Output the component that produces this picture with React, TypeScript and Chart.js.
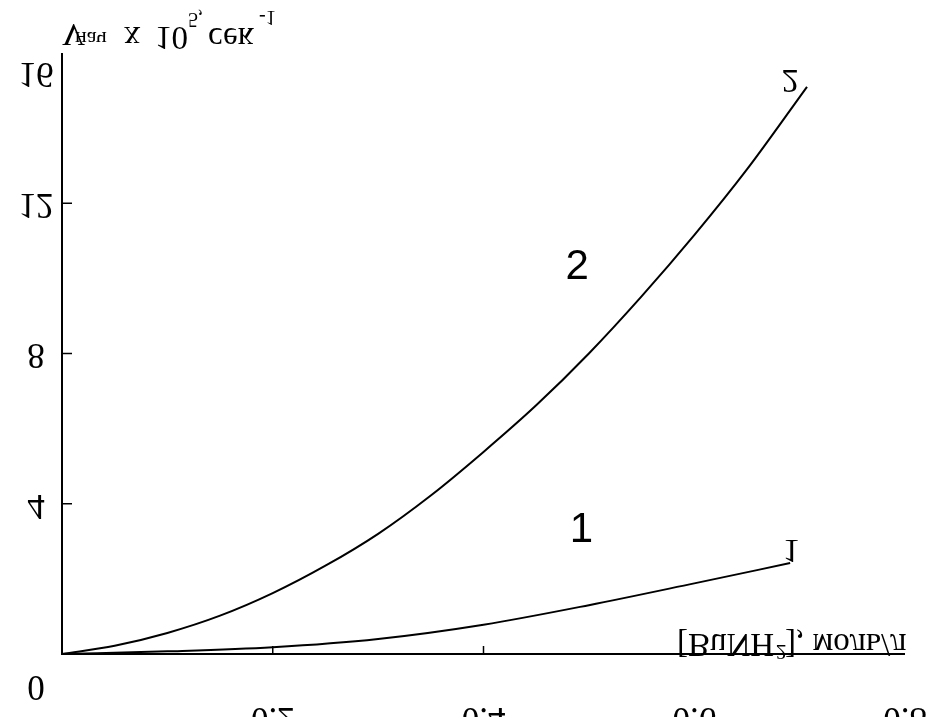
import React, { useEffect, useRef } from "react";
import { Chart, registerables } from "chart.js";

Chart.register(...registerables);

// ---- data ----
const xCurve2 = [0, 0.05, 0.1, 0.15, 0.2, 0.25, 0.3, 0.35, 0.4, 0.45, 0.5, 0.55, 0.6, 0.65, 0.707];
const yCurve2 = [0, 0.22, 0.56, 1.02, 1.62, 2.35, 3.2, 4.22, 5.38, 6.62, 8.0, 9.52, 11.15, 12.9, 15.1];
const xCurve1 = [0, 0.1, 0.2, 0.3, 0.4, 0.5, 0.6, 0.691];
const yCurve1 = [0, 0.07, 0.18, 0.4, 0.78, 1.3, 1.88, 2.42];

const xTickValues = [0.2, 0.4, 0.6, 0.8];
const xTickLabels = ["0.2", "0.4", "0.6", "0.8"];
const xTickMarks = [0.2, 0.4];
const yTickValues = [0, 4, 8, 12, 16];
const yTickLabels = ["0", "4", "8", "12", "16"];
const yTickMarks = [4, 8, 12];

const yTitleParts = ["V", "нач", "х", "10", "5,", "сек", "-1"];
const xTitleParts = ["[BuNH", "2", "], моль/л"];

const curveNames = ["1", "2"];
// label anchors in data units: [x, y]
const curveLabelAt = [
  [0.493, 3.3],
  [0.489, 10.28],
];
const curveEndLabelAt = [
  [0.692, 2.8],
  [0.691, 15.3],
];

const SERIF = "'Liberation Serif', 'Times New Roman', serif";
const SANS = "'Liberation Sans', Arial, sans-serif";

function flipText(ctx: CanvasRenderingContext2D, text: string, x: number, y: number, font: string, align: CanvasTextAlign) {
  ctx.save();
  ctx.font = font;
  ctx.textAlign = align;
  ctx.textBaseline = "middle";
  ctx.fillStyle = "#000";
  ctx.translate(x, y);
  ctx.scale(1, -1);
  ctx.fillText(text, 0, 0);
  ctx.restore();
}

const decorPlugin = {
  id: "decor",
  afterDatasetsDraw(chart: any) {
    const ctx: CanvasRenderingContext2D = chart.ctx;
    const xs = chart.scales.x;
    const ys = chart.scales.y;
    const x0 = xs.getPixelForValue(0);
    const y0 = ys.getPixelForValue(0);
    const yTop = ys.getPixelForValue(16);
    const xEnd = xs.getPixelForValue(0.8);

    ctx.save();
    ctx.strokeStyle = "#000";
    ctx.lineWidth = 2;
    ctx.beginPath();
    ctx.moveTo(x0, yTop);
    ctx.lineTo(x0, y0);
    ctx.lineTo(xEnd, y0);
    ctx.stroke();

    ctx.lineWidth = 1.5;
    yTickMarks.forEach((v) => {
      const p = ys.getPixelForValue(v);
      ctx.beginPath();
      ctx.moveTo(x0, p);
      ctx.lineTo(x0 + 10, p);
      ctx.stroke();
    });
    xTickMarks.forEach((v) => {
      const p = xs.getPixelForValue(v);
      ctx.beginPath();
      ctx.moveTo(p, y0);
      ctx.lineTo(p, y0 - 8);
      ctx.stroke();
    });
    ctx.restore();

    // tick labels (flipped)
    const tickFont = `35px ${SERIF}`;
    yTickValues.forEach((v, i) => {
      let p = ys.getPixelForValue(v);
      if (v === 0) p += 31;
      if (v === 16) p += 19;
      flipText(ctx, yTickLabels[i], 36, p, tickFont, "center");
    });
    xTickValues.forEach((v, i) => {
      const p = xs.getPixelForValue(v);
      flipText(ctx, xTickLabels[i], p, y0 + 63, tickFont, "center");
    });

    // y title
    const yStyles = [
      { x: 0, y: 32, size: 32 },
      { x: 13, y: 38, size: 22 },
      { x: 62, y: 36, size: 33 },
      { x: 93, y: 36, size: 33 },
      { x: 126, y: 18, size: 20 },
      { x: 146, y: 37, size: 33 },
      { x: 197, y: 16, size: 20 },
    ];
    yTitleParts.forEach((t, i) => {
      const s = yStyles[i];
      flipText(ctx, t, x0 + s.x, s.y, `${s.size}px ${SERIF}`, "left");
    });

    // x title
    const xStyles = [
      { x: 677, dy: -11, size: 33 },
      { x: 776, dy: -3, size: 21 },
      { x: 785, dy: -11, size: 33 },
    ];
    xTitleParts.forEach((t, i) => {
      const s = xStyles[i];
      flipText(ctx, t, s.x, y0 + s.dy, `${s.size}px ${SERIF}`, "left");
    });

    // curve labels
    ctx.save();
    ctx.fillStyle = "#000";
    ctx.font = `42px ${SANS}`;
    ctx.textAlign = "center";
    ctx.textBaseline = "middle";
    curveNames.forEach((n, i) => {
      const [lx, ly] = curveLabelAt[i];
      ctx.fillText(n, xs.getPixelForValue(lx), ys.getPixelForValue(ly));
    });
    ctx.restore();
    curveNames.forEach((n, i) => {
      const [lx, ly] = curveEndLabelAt[i];
      flipText(ctx, n, xs.getPixelForValue(lx), ys.getPixelForValue(ly), `34px ${SERIF}`, "center");
    });
  },
};

export default function App() {
  const ref = useRef<HTMLCanvasElement | null>(null);
  useEffect(() => {
    if (!ref.current) return;
    const chart = new Chart(ref.current, {
      type: "line",
      data: {
        datasets: [
          {
            label: "1",
            data: xCurve1.map((x, i) => ({ x, y: yCurve1[i] })),
            borderColor: "#000",
            borderWidth: 2,
            pointRadius: 0,
            cubicInterpolationMode: "monotone",
            fill: false,
          },
          {
            label: "2",
            data: xCurve2.map((x, i) => ({ x, y: yCurve2[i] })),
            borderColor: "#000",
            borderWidth: 2,
            pointRadius: 0,
            cubicInterpolationMode: "monotone",
            fill: false,
          },
        ],
      },
      options: {
        animation: false,
        responsive: true,
        maintainAspectRatio: false,
        layout: { padding: { left: 62, right: 21, top: 53, bottom: 63 } },
        plugins: { legend: { display: false }, tooltip: { enabled: false } },
        scales: {
          x: { type: "linear", min: 0, max: 0.8, display: false },
          y: { type: "linear", min: 0, max: 16, display: false },
        },
      },
      plugins: [decorPlugin],
    });
    return () => chart.destroy();
  }, []);
  return (
    <div style={{ position: "fixed", left: 0, top: 0, width: 926, height: 717, background: "#fff" }}>
      <canvas ref={ref} />
    </div>
  );
}
